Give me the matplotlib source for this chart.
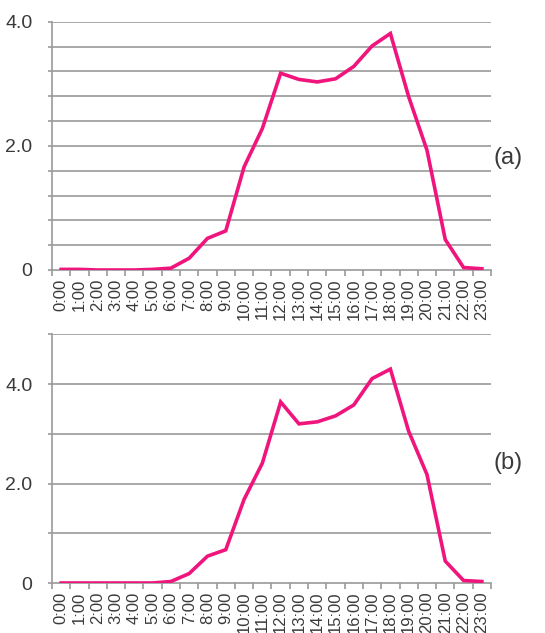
import matplotlib
matplotlib.use("Agg")
import matplotlib.pyplot as plt
import numpy as np

hours = [f"{h}:00" for h in range(24)]
series_a = [0.01, 0.01, 0.0, 0.0, 0.0, 0.01, 0.03, 0.19, 0.51, 0.63, 1.66, 2.28,
            3.17, 3.07, 3.03, 3.08, 3.28, 3.61, 3.81, 2.79, 1.93, 0.49, 0.04, 0.02]
series_b = [0.0, 0.0, 0.0, 0.0, 0.0, 0.0, 0.03, 0.19, 0.54, 0.67, 1.68, 2.41,
            3.64, 3.20, 3.24, 3.36, 3.58, 4.11, 4.30, 3.05, 2.18, 0.44, 0.05, 0.03]
panel_labels = ["(a)", "(b)"]
ytick_labels = ["0", "2.0", "4.0"]

plt.rcParams['font.family'] = ['Liberation Sans', 'DejaVu Sans']

W, H = 545, 633
fig = plt.figure(figsize=(W / 100, H / 100), dpi=100)

line_color = "#F0157D"
grid_color = "#9a9a9a"
text_color = "#3a3a3a"

def setup(ax, data, ymax, grid_step):
    x = np.arange(len(hours))
    ax.plot(x, data, color=line_color, lw=2.6, solid_joinstyle='miter', zorder=3)
    ax.set_xlim(-0.5, len(hours) - 0.5)
    ax.set_ylim(0, ymax)
    grid_vals = np.arange(0, ymax + 1e-9, grid_step)
    for g in grid_vals[1:]:
        ax.axhline(g, color=grid_color, lw=1.2, zorder=1)
    ax.set_yticks(grid_vals)
    labels = []
    for v in grid_vals:
        txt = ""
        for t in ytick_labels:
            if abs(float(t) - v) < 1e-9:
                txt = t
        labels.append(txt)
    ax.set_yticklabels(labels)
    ax.tick_params(axis='y', length=3, width=1.2, color=grid_color, pad=11,
                   labelsize=14, labelcolor=text_color)
    ax.set_xticks(x)
    ax.set_xticklabels(hours, rotation=90)
    ax.set_xticks(np.arange(-0.5, len(hours)), minor=True)
    ax.tick_params(axis='x', which='major', length=0, pad=6, labelsize=12,
                   labelcolor=text_color)
    ax.tick_params(axis='x', which='minor', length=4, width=1.2, color=grid_color)
    for s in ['top', 'right']:
        ax.spines[s].set_visible(False)
    for s in ['left', 'bottom']:
        ax.spines[s].set_color(grid_color)
        ax.spines[s].set_linewidth(1.2)
    ax.set_facecolor('white')

ax1 = fig.add_axes([52 / W, 1 - 270 / H, 439 / W, 248.3 / H])
setup(ax1, series_a, 4.0, 0.4)
ax2 = fig.add_axes([52 / W, 1 - 583 / H, 439 / W, 248.7 / H])
setup(ax2, series_b, 5.0, 1.0)

fig.text(508 / W, 1 - 158 / H, panel_labels[0], fontsize=17, color=text_color,
         ha='center', va='center')
fig.text(508 / W, 1 - 463 / H, panel_labels[1], fontsize=17, color=text_color,
         ha='center', va='center')

fig.savefig("out.png", dpi=100, facecolor='white')
